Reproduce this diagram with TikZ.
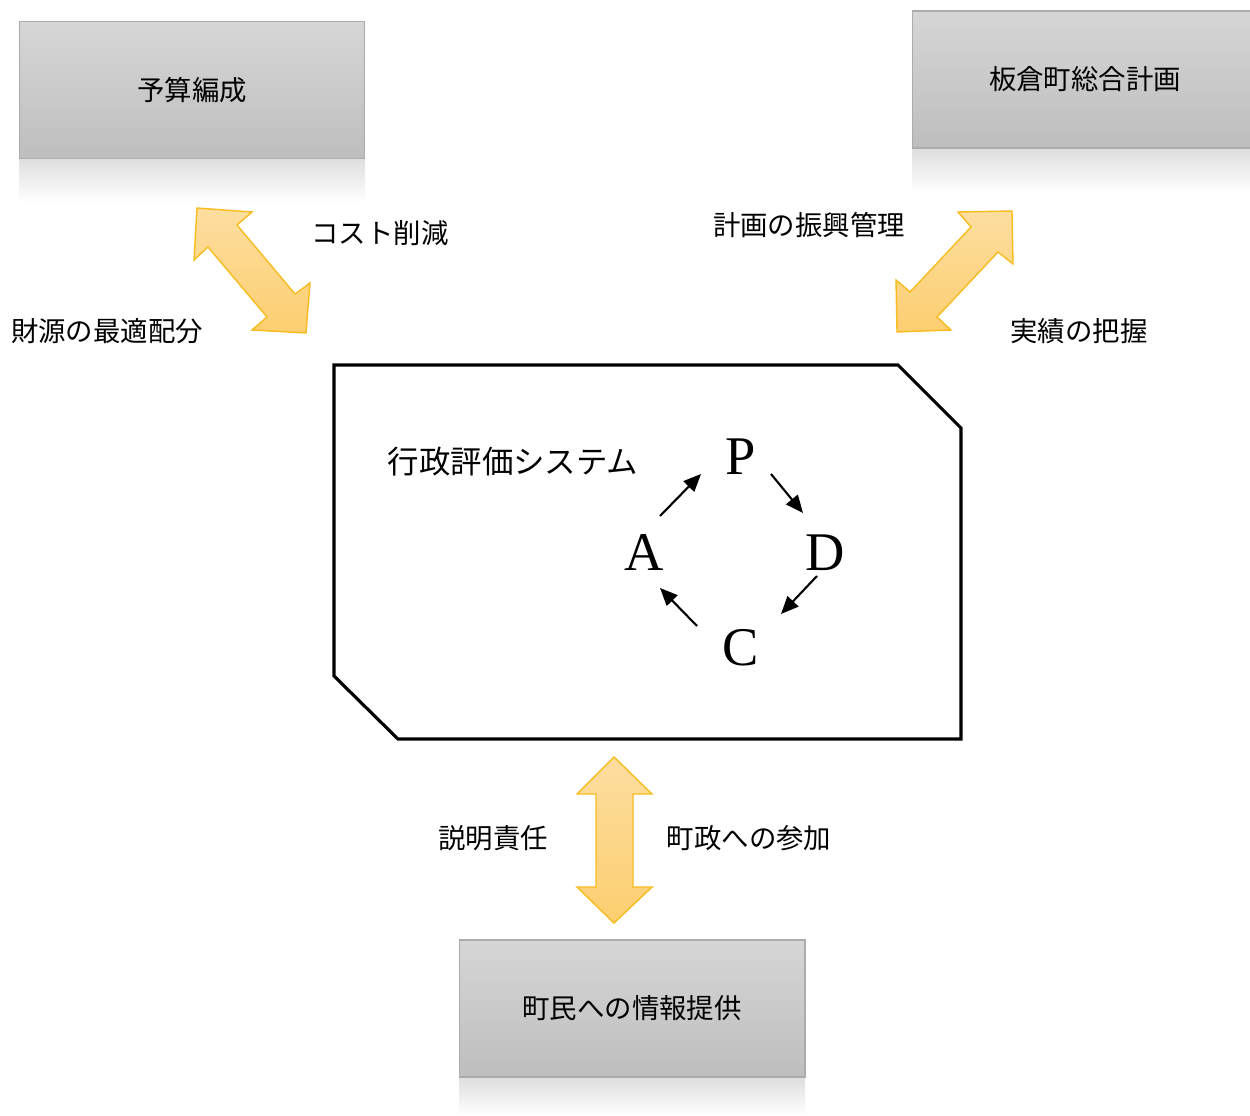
\documentclass[tikz,border=0pt]{standalone}
\usepackage{fontspec}
\newfontfamily\jp{Noto Sans CJK JP}
\newfontfamily\lat{Liberation Serif}
\usetikzlibrary{arrows.meta}
\definecolor{boxtop}{RGB}{214,214,214}
\definecolor{boxbot}{RGB}{190,190,190}
\definecolor{boxline}{RGB}{172,172,172}
\definecolor{arrL}{RGB}{253,222,160}
\definecolor{arrD}{RGB}{252,206,112}
\definecolor{arrB}{RGB}{248,188,30}
\begin{document}
\begin{tikzpicture}[x=0.02cm,y=-0.02cm,
 graybox/.style={rectangle, draw=boxline, line width=0.6pt, top color=boxtop, bottom color=boxbot, minimum width=6.92cm, minimum height=2.74cm, inner sep=0pt, font=\jp\fontsize{15.6}{18}\selectfont},
 refl/.style={top color=black!13, bottom color=white, draw=none},
 fat/.style={top color=arrL, bottom color=arrD, draw=arrB, line width=0.8pt, line join=miter},
 lab/.style={font=\jp\fontsize{15.6}{18}\selectfont, inner sep=0pt},
 letter/.style={font=\lat\fontsize{31}{34}\selectfont, inner sep=0pt},
 cyc/.style={-{Triangle[length=10pt,width=8.5pt]}, line width=1.2pt},
 sysline/.style={line width=1.8pt, line join=miter}
]
\useasboundingbox (0,0) rectangle (1250,1115);
\fill[white] (0,0) rectangle (1250,1115);

% reflections
\shade[refl] (19,158) rectangle (365,202);
\shade[refl] (912,148) rectangle (1258,192);
\shade[refl] (459,1077) rectangle (805,1115);

% gray boxes
\node[graybox] (budget) at (192,90) {予算編成};
\node[graybox] (plan) at (1085,79.5) {板倉町総合計画};
\node[graybox] (info) at (632,1008.5) {町民への情報提供};

% central system box
\draw[sysline] (334,365) -- (898,365) -- (961,428) -- (961,739) -- (398,739) -- (334,676) -- cycle;
\node[font=\jp\fontsize{17.9}{20}\selectfont, inner sep=0pt] (sys) at (513,462) {行政評価システム};

% fat double arrows
\shade[fat] (197,208) -- (252,212) -- (237,225) -- (295,294) -- (310,283) -- (306,333) -- (252,330) -- (267,317) -- (208,247) -- (194,260) -- cycle;
\shade[fat] (1012,211) -- (958,212) -- (971,227) -- (910,292) -- (896,280) -- (897,332) -- (951,330) -- (937,317) -- (998,252) -- (1013,264) -- cycle;
\shade[fat] (614,757) -- (652,794) -- (633,794) -- (633,887) -- (652,887) -- (614,923) -- (577,887) -- (596,887) -- (596,794) -- (577,794) -- cycle;

% labels
\node[lab] (l1) at (380,233) {コスト削減};
\node[lab] (l2) at (107,331) {財源の最適配分};
\node[lab] (l3) at (809,225) {計画の振興管理};
\node[lab] (l4) at (1079,331) {実績の把握};
\node[lab] (l5) at (493,838) {説明責任};
\node[lab] (l6) at (749,838) {町政への参加};

% PDCA
\node[letter] (P) at (741,457) {P};
\node[letter] (D) at (825,553) {D};
\node[letter] (C) at (741,648) {C};
\node[letter] (A) at (644,553) {A};
\coordinate (ap1) at (660,516); \coordinate (ap2) at (701,474);
\coordinate (pd1) at (771,474); \coordinate (pd2) at (803,513);
\coordinate (dc1) at (817,576); \coordinate (dc2) at (781,614);
\coordinate (ca1) at (697,626); \coordinate (ca2) at (660,588);
\draw[cyc] (ap1) -- (ap2);
\draw[cyc] (pd1) -- (pd2);
\draw[cyc] (dc1) -- (dc2);
\draw[cyc] (ca1) -- (ca2);
\end{tikzpicture}
\end{document}
